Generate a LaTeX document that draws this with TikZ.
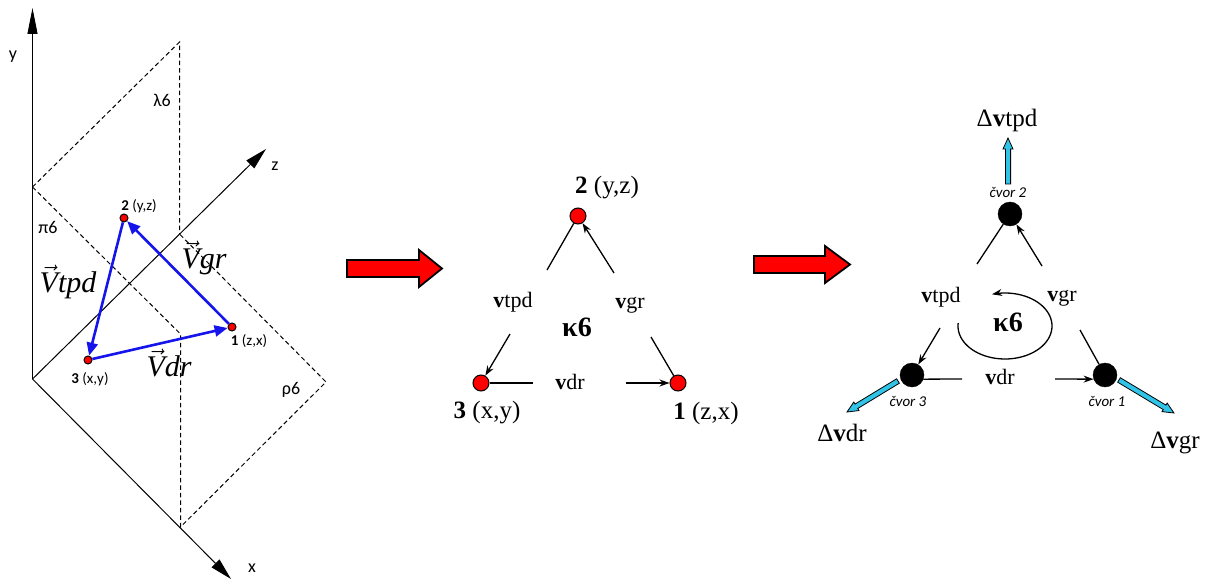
\documentclass[tikz,border=0pt]{standalone}
\usepackage{fix-cm}
\usepackage{fontspec}
\setmainfont{Liberation Serif}
\newfontfamily\calfont{Carlito}
\usetikzlibrary{arrows.meta,calc}
\definecolor{arrowcyan}{RGB}{48,196,232}
\definecolor{vecblue}{RGB}{20,20,235}
\newcommand\hollowarrow[2]{%
  \coordinate (hb) at ($(#2)!11pt!(#1)$);
  \draw[cyanarrow] ($(#1)!2.6pt!90:(#2)$) -- ($(hb)!2.6pt!90:(#2)$) -- ($(hb)!5pt!90:(#2)$) -- (#2) -- ($(hb)!5pt!-90:(#2)$) -- ($(hb)!2.6pt!-90:(#2)$) -- ($(#1)!2.6pt!-90:(#2)$) -- cycle;}
\begin{document}
\begin{tikzpicture}[x=1pt,y=-1pt,
  axis/.style={line width=1pt,-{Triangle[length=26pt,width=10pt]}},
  planeline/.style={line width=1pt,dash pattern=on 4.5pt off 3pt},
  lpt/.style={circle,fill=red,draw=black,line width=1pt,inner sep=0pt,minimum size=8pt},
  bluevec/.style={vecblue,line width=2.6pt,-{Triangle[length=13pt,width=11pt]}},
  mnode/.style={circle,fill=red,draw=black,line width=1pt,inner sep=0pt,minimum size=16pt},
  rnode/.style={circle,fill=black,draw=black,inner sep=0pt,minimum size=24pt},
  thinline/.style={line width=1.3pt},
  arrowed/.style={line width=1.3pt,-{Stealth[length=10pt,width=7pt]}},
  redarrow/.style={fill=red,draw=black,line width=1.8pt},
  cyanarrow/.style={fill=arrowcyan,draw=black,line width=0.8pt},
  sanslab/.style={font=\calfont\fontsize{18}{21}\selectfont,inner sep=0pt},
  ptlab/.style={font=\calfont\fontsize{15}{18}\selectfont,inner sep=0pt},
  vlab/.style={font=\fontsize{30}{36}\selectfont,inner sep=0pt},
  numlab/.style={font=\fontsize{25}{30}\selectfont,inner sep=0pt},
  vellab/.style={font=\fontsize{22}{26}\selectfont,inner sep=0pt},
  kaplab/.style={font=\bfseries\fontsize{28}{32}\selectfont,inner sep=0pt},
  dlab/.style={font=\fontsize{25}{30}\selectfont,inner sep=0pt},
  cvlab/.style={font=\calfont\itshape\fontsize{15}{18}\selectfont,inner sep=0pt}
]
\useasboundingbox (0,0) rectangle (1208,580);
% ---------- left panel: axes ----------
\coordinate (O) at (32.5,379);
\coordinate (Yt) at (32.5,8);
\coordinate (Zt) at (266,149);
\coordinate (Xt) at (231,579);
\draw[axis] (O) -- (Yt);
\draw[axis,-{Triangle[length=22pt,width=11pt]}] (O) -- (Zt);
\draw[axis,-{Triangle[length=22pt,width=11pt]}] (O) -- (Xt);
\node[sanslab] (ly) at (13,57) {y};
\node[sanslab] (lz) at (275,166) {z};
\node[sanslab] (lx) at (252,568) {x};
% planes
\coordinate (A) at (32.5,187);
\coordinate (B) at (179.5,42);
\coordinate (C) at (179.5,234);
\coordinate (D) at (180.5,334);
\coordinate (E) at (180.5,527);
\coordinate (F) at (326,382);
\draw[planeline] (A) -- (B) -- (C);
\draw[planeline] (A) -- (D) -- (E) -- (F) -- (C);
\node[sanslab] (llam) at (162,100) {λ6};
\node[sanslab] (lpi) at (48,227) {π6};
\node[sanslab] (lrho) at (291,390) {ρ6};
% points
\node[lpt] (p2) at (124,218) {};
\node[lpt] (p1) at (232,327) {};
\node[lpt] (p3) at (88,360) {};
\draw[bluevec] (p1) -- (p2);
\draw[bluevec] (p2) -- (p3);
\draw[bluevec] (p3) -- (p1);
\node[ptlab] (lp2) at (139,206) {\bfseries 2\mdseries\ (y,z)};
\node[ptlab] (lp1) at (249,341) {\bfseries 1\mdseries\ (z,x)};
\node[ptlab] (lp3) at (90,379) {\bfseries 3\mdseries\ (x,y)};
\node[vlab] (vtpd) at (68,282) {$\vec{\hbox{\itshape V}}$\itshape tpd};
\node[vlab] (vgr) at (204,258) {$\vec{\hbox{\itshape V}}$\itshape gr};
\node[vlab] (vdr) at (169,363) {$\vec{\hbox{\itshape V}}$\itshape dr};
% ---------- red arrows ----------
\draw[redarrow] (347,260) -- (419,260) -- (419,250) -- (442,268.5) -- (419,287) -- (419,277) -- (347,277) -- cycle;
\draw[redarrow] (754,256) -- (825,256) -- (825,246) -- (850,264.5) -- (825,283) -- (825,273) -- (754,273) -- cycle;
% ---------- middle ----------
\node[mnode] (m2) at (578,216) {};
\node[mnode] (m3) at (481,383) {};
\node[mnode] (m1) at (678,383) {};
\coordinate (m2a) at (547,270);
\coordinate (m2b) at (614,273);
\coordinate (m3a) at (510,334);
\coordinate (m1a) at (651,337);
\coordinate (m3b) at (533,383);
\coordinate (m1b) at (626,383);
\draw[thinline] (m2) -- (m2a);
\draw[arrowed] (m2b) -- (m2);
\draw[arrowed] (m3a) -- (m3);
\draw[thinline] (m1a) -- (m1);
\draw[thinline] (m3) -- (m3b);
\draw[arrowed] (m1b) -- (m1);
\node[numlab] (lm2) at (607,188) {\bfseries 2\mdseries\ (y,z)};
\node[numlab] (lm3) at (487,413) {\bfseries 3\mdseries\ (x,y)};
\node[numlab] (lm1) at (706,413) {\bfseries 1\mdseries\ (z,x)};
\node[vellab] (mvtpd) at (513,302) {\textbf{v}tpd};
\node[vellab] (mvgr) at (630,305) {\textbf{v}gr};
\node[vellab] (mvdr) at (570,382) {\textbf{v}dr};
\node[kaplab] (mk) at (577,327) {κ6};
% ---------- right ----------
\node[rnode] (r2) at (1010,214) {};
\node[rnode] (r3) at (912,375) {};
\node[rnode] (r1) at (1105,375) {};
\coordinate (r2a) at (977,264);
\coordinate (r2b) at (1042,266);
\coordinate (r3a) at (940,328);
\coordinate (r1a) at (1080,330);
\coordinate (r3b) at (962,379);
\coordinate (r1b) at (1055,379);
\draw[thinline] (r2) -- (r2a);
\draw[arrowed] (r2b) -- (r2);
\draw[arrowed] (r3a) -- (r3);
\draw[thinline] (r1a) -- (r1);
\draw[thinline] (r3.-20) -- (r3b);
\draw[arrowed] (r1b) -- (r1.200);
\coordinate (c2s) at (1008,184);
\coordinate (c2t) at (1008,138);
\coordinate (c3s) at (898,381);
\coordinate (c3t) at (847,412);
\coordinate (c1s) at (1119,380);
\coordinate (c1t) at (1174,413);
\hollowarrow{c2s}{c2t}
\hollowarrow{c3s}{c3t}
\hollowarrow{c1s}{c1t}
\node[dlab] (dtpd) at (1007,120) {Δ\textbf{v}tpd};
\node[dlab] (ddr) at (842,433) {Δ\textbf{v}dr};
\node[dlab] (dgr) at (1175,443) {Δ\textbf{v}gr};
\node[cvlab] (cv2) at (1008,192) {čvor 2};
\node[cvlab] (cv3) at (908,401) {čvor 3};
\node[cvlab] (cv1) at (1107,401) {čvor 1};
\node[vellab] (rvtpd) at (941,297) {\textbf{v}tpd};
\node[vellab] (rvgr) at (1062,298) {\textbf{v}gr};
\node[vellab] (rvdr) at (1000,377) {\textbf{v}dr};
\node[kaplab] (rk) at (1008,322) {κ6};
\draw[arrowed] plot[domain=185:-106,samples=80,smooth] ({1005+47*cos(\x)},{326+33*sin(\x)});
\end{tikzpicture}
\end{document}
